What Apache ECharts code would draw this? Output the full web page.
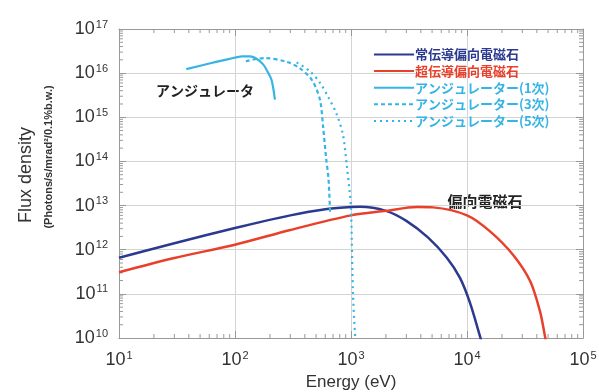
<!DOCTYPE html>
<html><head><meta charset="utf-8">
<script src="https://cdn.jsdelivr.net/npm/echarts@6/dist/echarts.min.js"></script>
<style>html,body{margin:0;padding:0;background:#fff}#c{width:599px;height:392px}</style>
</head><body><div id="c"></div>
<script>
// Normal-conducting bending magnet
const energyBM = [10, 30, 100, 300, 600, 1000, 1200, 2000, 3000, 4600, 6700, 8700, 10600, 13000, 13600];
const fluxBM   = [6.6e11, 1.4e12, 3.1e12, 6.0e12, 8.3e12, 9.3e12, 9.4e12, 7.6e12, 4.5e12, 1.9e12, 6.6e11, 2.3e11, 6.3e10, 1.05e10, 7e9];
// Superconducting bending magnet
const energySC = [10, 30, 100, 300, 1000, 2000, 3700, 5100, 10000, 15800, 25000, 35000, 42600, 47000, 48500];
const fluxSC   = [3.1e11, 6.5e11, 1.3e12, 2.8e12, 6.0e12, 7.6e12, 9.3e12, 9.1e12, 6.0e12, 2.6e12, 7.6e11, 1.95e11, 4.0e10, 1.1e10, 7e9];
// Undulator harmonics
const energyU1 = [38, 60, 90, 115, 135, 150, 174, 192, 207, 221];
const fluxU1   = [1.23e16, 1.65e16, 2.1e16, 2.4e16, 2.4e16, 2.2e16, 1.6e16, 1.05e16, 6.9e15, 2.5e15];
const energyU3 = [124, 180, 280, 360, 460, 540, 575, 610, 640, 660];
const fluxU3   = [1.86e16, 2.2e16, 1.8e16, 1.3e16, 7.0e15, 2.5e15, 6.0e14, 1.2e14, 4.0e13, 6.8e12];
const energyU5 = [340, 443, 541, 640, 750, 853, 920, 975, 1000, 1040, 1090];
const fluxU5   = [1.75e16, 1.1e16, 6.0e15, 2.8e15, 1.2e15, 4.0e14, 8.0e13, 2.0e13, 8.7e12, 1.0e11, 9e9];
const seriesNames = ['常伝導偏向電磁石', '超伝導偏向電磁石', 'アンジュレーター(1次)', 'アンジュレーター(3次)', 'アンジュレーター(5次)'];

const BLUE = '#2b3a8f', RED = '#e8402a', LB = '#36b4e5';
const zip = (a, b) => a.map((v, i) => [v, b[i]]);

const minorX = [], minorY = [];
for (let d = 1; d < 5; d++) for (let m = 2; m <= 9; m++) minorX.push([m * Math.pow(10, d), 1e10]);
for (let d = 10; d < 17; d++) for (let m = 2; m <= 9; m++) minorY.push([10, m * Math.pow(10, d)]);

const fontLat = 'Liberation Sans, Arial, sans-serif';
const jp = '"Noto Sans CJK JP", sans-serif';
const richLab = {
  b: { fontSize: 18, fontFamily: fontLat, color: '#333', lineHeight: 20 },
  s: { fontSize: 11, fontFamily: fontLat, color: '#333', verticalAlign: 'top', padding: [0, 0, 0, 1] }
};
const powFmt = v => '{b|10}{s|' + Math.round(Math.log10(v)) + '}';

const chart = echarts.init(document.getElementById('c'), null, { renderer: 'canvas' });
const tickRender = (isX) => function (params, api) {
  const v0 = api.value(0), v1 = api.value(1);
  const L = 4;
  if (isX) {
    const a = api.coord([v0, 1e10]), b = api.coord([v0, 1e17]);
    return { type: 'group', children: [
      { type: 'line', shape: { x1: a[0], y1: a[1], x2: a[0], y2: a[1] - L }, style: { stroke: '#999', lineWidth: 1 } },
      { type: 'line', shape: { x1: b[0], y1: b[1], x2: b[0], y2: b[1] + L }, style: { stroke: '#999', lineWidth: 1 } }
    ]};
  } else {
    const a = api.coord([10, v1]), b = api.coord([1e5, v1]);
    return { type: 'group', children: [
      { type: 'line', shape: { x1: a[0], y1: a[1], x2: a[0] + L, y2: a[1] }, style: { stroke: '#999', lineWidth: 1 } },
      { type: 'line', shape: { x1: b[0], y1: b[1], x2: b[0] - L, y2: b[1] }, style: { stroke: '#999', lineWidth: 1 } }
    ]};
  }
};

chart.setOption({
  animation: false,
  backgroundColor: '#fff',
  grid: { left: 119, right: 16, top: 29, bottom: 54, outerBoundsMode: 'none', containLabel: false },
  legend: {
    orient: 'vertical', left: 368, top: 43, itemWidth: 40, itemHeight: 14, itemGap: 3.6,
    itemStyle: { opacity: 0 },
    data: [
      { name: seriesNames[0], textStyle: { color: BLUE } },
      { name: seriesNames[1], textStyle: { color: RED } },
      { name: seriesNames[2], textStyle: { color: LB } },
      { name: seriesNames[3], textStyle: { color: LB } },
      { name: seriesNames[4], textStyle: { color: LB } }
    ],
    textStyle: { fontFamily: jp, fontSize: 13, fontWeight: 'bold', padding: [0, 0, 0, -4] }
  },
  xAxis: [{
    type: 'log', logBase: 10, min: 10, max: 1e5, position: 'bottom',
    name: 'Energy (eV)', nameLocation: 'middle', nameGap: 36,
    nameTextStyle: { fontSize: 17, fontFamily: fontLat, color: '#333' },
    axisLine: { show: true, lineStyle: { color: '#999' } },
    axisTick: { inside: true, length: 7, lineStyle: { color: '#999' } },
    axisLabel: { formatter: powFmt, rich: richLab, margin: 12 },
    splitLine: { show: true, lineStyle: { color: '#d4d4d4' } }
  }, {
    type: 'log', logBase: 10, min: 10, max: 1e5, position: 'top',
    axisLine: { show: true, lineStyle: { color: '#999' } },
    axisTick: { inside: true, length: 7, lineStyle: { color: '#999' } },
    axisLabel: { show: false }, splitLine: { show: false }
  }],
  yAxis: [{
    type: 'log', logBase: 10, min: 1e10, max: 1e17, position: 'left',
    axisLine: { show: true, lineStyle: { color: '#999' } },
    axisTick: { inside: true, length: 7, lineStyle: { color: '#999' } },
    axisLabel: { formatter: powFmt, rich: richLab, margin: 11 },
    splitLine: { show: true, lineStyle: { color: '#d4d4d4' } }
  }, {
    type: 'log', logBase: 10, min: 1e10, max: 1e17, position: 'right',
    axisLine: { show: true, lineStyle: { color: '#999' } },
    axisTick: { inside: true, length: 7, lineStyle: { color: '#999' } },
    axisLabel: { show: false }, splitLine: { show: false }
  }],
  graphic: [
    { type: 'text', rotation: Math.PI / 2, x: 26, y: 175,
      style: { text: 'Flux density', fontSize: 18, fontFamily: fontLat, fill: '#333', align: 'center', verticalAlign: 'middle' } },
    { type: 'text', rotation: Math.PI / 2, x: 49, y: 157,
      style: { text: '(Photons/s/mrad²/0.1%b.w.)', fontSize: 11, fontWeight: 'bold', fontFamily: fontLat, fill: '#333', align: 'center', verticalAlign: 'middle' } },
    { type: 'text', x: 205, y: 91,
      style: { text: 'アンジュレータ', fontSize: 14, fontWeight: 'bold', fontFamily: jp, fill: '#222', align: 'center', verticalAlign: 'middle' } },
    { type: 'text', x: 485, y: 201,
      style: { text: '偏向電磁石', fontSize: 15, fontWeight: 'bold', fontFamily: jp, fill: '#222', align: 'center', verticalAlign: 'middle' } }
  ],
  series: [
    { type: 'custom', renderItem: tickRender(true), data: minorX, silent: true, z: 1 },
    { type: 'custom', renderItem: tickRender(false), data: minorY, silent: true, z: 1 },
    { name: seriesNames[0], type: 'line', data: zip(energyBM, fluxBM), smooth: 0.3, symbol: 'none', lineStyle: { color: BLUE, width: 2.5 }, itemStyle: { color: BLUE } },
    { name: seriesNames[1], type: 'line', data: zip(energySC, fluxSC), smooth: 0.3, symbol: 'none', lineStyle: { color: RED, width: 2.5 }, itemStyle: { color: RED } },
    { name: seriesNames[2], type: 'line', data: zip(energyU1, fluxU1), smooth: 0.3, symbol: 'none', lineStyle: { color: LB, width: 2.2 }, itemStyle: { color: LB } },
    { name: seriesNames[3], type: 'line', data: zip(energyU3, fluxU3), smooth: 0.3, symbol: 'none', lineStyle: { color: LB, width: 2.2, type: [4, 3] }, itemStyle: { color: LB } },
    { name: seriesNames[4], type: 'line', data: zip(energyU5, fluxU5), smooth: 0.3, symbol: 'none', lineStyle: { color: LB, width: 2.2, type: [2, 4] }, itemStyle: { color: LB } }
  ]
});
</script></body></html>
